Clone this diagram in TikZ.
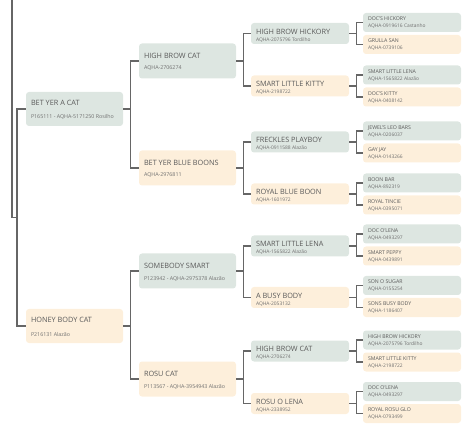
\documentclass[tikz,border=0pt]{standalone}
\usepackage{fontspec}
\setmainfont{Open Sans}
\definecolor{gbox}{HTML}{DDE6E1}
\definecolor{pbox}{HTML}{FDEFDB}
\definecolor{txt}{HTML}{5A5A5A}
\definecolor{subtxt}{HTML}{707070}
\definecolor{wire}{HTML}{666666}
\tikzset{
  hbx/.style={draw=none, rounded corners=3pt, inner sep=0pt, fill=#1},
  L1/.style={minimum width=97pt, minimum height=34pt},
  L2/.style={minimum width=97pt, minimum height=35pt},
  L3/.style={minimum width=98pt, minimum height=21pt},
  L4/.style={minimum width=98pt, minimum height=19pt},
  nm1/.style={anchor=base west, inner sep=0pt, text=txt, yshift=3.4pt, font=\fontsize{7.3}{8}\selectfont},
  sb1/.style={anchor=base west, inner sep=0pt, text=subtxt, yshift=-10pt, font=\fontsize{5.3}{6}\selectfont},
  nm2/.style={anchor=base west, inner sep=0pt, text=txt, yshift=2.4pt, font=\fontsize{7.3}{8}\selectfont},
  sb2/.style={anchor=base west, inner sep=0pt, text=subtxt, yshift=-9pt, font=\fontsize{5.3}{6}\selectfont},
  nm3/.style={anchor=base west, inner sep=0pt, text=txt, yshift=-0.8pt, font=\fontsize{7.3}{8}\selectfont},
  sb3/.style={anchor=base west, inner sep=0pt, text=subtxt, yshift=-7.6pt, font=\fontsize{4.9}{5}\selectfont},
  nm4/.style={anchor=base west, inner sep=0pt, text=txt, yshift=1.8pt, font=\fontsize{5.2}{6}\selectfont},
  sb4/.style={anchor=base west, inner sep=0pt, text=subtxt, yshift=-5.4pt, font=\fontsize{4.9}{5}\selectfont},
  conn/.style={draw=wire, line width=1.3pt},
}
\newcommand\pedi[7]{%
  \node[hbx=#3, L#1] (#2) at (#4,#5) {};
  \node[nm#1] (#2-n) at ([xshift=5pt]#2.west) {#6};
  \node[sb#1] (#2-s) at ([xshift=5pt]#2.west) {#7};
}
\newcommand\linkto[2]{\draw[conn] (#1.east) -- ++(7,0) |- (#2.west);}
\begin{document}
\begin{tikzpicture}[x=1pt,y=-1pt]
\useasboundingbox (0,0) rectangle (468,435);
% level 1
\pedi{1}{A}{gbox}{74.5}{109}{BET YER A CAT}{P165111 - AQHA-5171250 Rosilho}
\pedi{1}{B}{pbox}{74.5}{326}{HONEY BODY CAT}{P216131 Alazão}
% level 2
\pedi{2}{AA}{gbox}{187.5}{61}{HIGH BROW CAT}{AQHA-2706274}
\pedi{2}{AB}{pbox}{187.5}{168}{BET YER BLUE BOONS}{AQHA-2976811}
\pedi{2}{BA}{gbox}{187.5}{271}{SOMEBODY SMART}{P123942 - AQHA-2975378 Alazão}
\pedi{2}{BB}{pbox}{187.5}{379}{ROSU CAT}{P113567 - AQHA-3954943 Alazão}
% level 3
\pedi{3}{AAA}{gbox}{300}{33.5}{HIGH BROW HICKORY}{AQHA-2075796 Tordilho}
\pedi{3}{AAB}{pbox}{300}{86}{SMART LITTLE KITTY}{AQHA-2198722}
\pedi{3}{ABA}{gbox}{300}{142}{FRECKLES PLAYBOY}{AQHA-0911588 Alazão}
\pedi{3}{ABB}{pbox}{300}{194}{ROYAL BLUE BOON}{AQHA-1601972}
\pedi{3}{BAA}{gbox}{300}{246}{SMART LITTLE LENA}{AQHA-1565822 Alazão}
\pedi{3}{BAB}{pbox}{300}{297.5}{A BUSY BODY}{AQHA-2053132}
\pedi{3}{BBA}{gbox}{300}{351}{HIGH BROW CAT}{AQHA-2706274}
\pedi{3}{BBB}{pbox}{300}{403.5}{ROSU O LENA}{AQHA-2338952}
% level 4
\pedi{4}{AAAa}{gbox}{412}{22.5}{DOC'S HICKORY}{AQHA-0919616 Castanho}
\pedi{4}{AAAb}{pbox}{412}{44.5}{GRULLA SAN}{AQHA-0739106}
\pedi{4}{AABa}{gbox}{412}{75}{SMART LITTLE LENA}{AQHA-1565822 Alazão}
\pedi{4}{AABb}{pbox}{412}{97}{DOC'S KITTY}{AQHA-0408142}
\pedi{4}{ABAa}{gbox}{412}{131}{JEWEL'S LEO BARS}{AQHA-0206037}
\pedi{4}{ABAb}{pbox}{412}{153}{GAY JAY}{AQHA-0143266}
\pedi{4}{ABBa}{gbox}{412}{183}{BOON BAR}{AQHA-892319}
\pedi{4}{ABBb}{pbox}{412}{205}{ROYAL TINCIE}{AQHA-0395071}
\pedi{4}{BAAa}{gbox}{412}{234}{DOC O'LENA}{AQHA-0493297}
\pedi{4}{BAAb}{pbox}{412}{256}{SMART PEPPY}{AQHA-0439891}
\pedi{4}{BABa}{gbox}{412}{285.5}{SON O SUGAR}{AQHA-0155254}
\pedi{4}{BABb}{pbox}{412}{307.5}{SONS BUSY BODY}{AQHA-1186407}
\pedi{4}{BBAa}{gbox}{412}{340}{HIGH BROW HICKORY}{AQHA-2075796 Tordilho}
\pedi{4}{BBAb}{pbox}{412}{362}{SMART LITTLE KITTY}{AQHA-2198722}
\pedi{4}{BBBa}{gbox}{412}{391.5}{DOC O'LENA}{AQHA-0493297}
\pedi{4}{BBBb}{pbox}{412}{413.5}{ROYAL ROSU GLO}{AQHA-0793499}
% root connector
\coordinate (root) at (12,0);
\coordinate (rj) at (17,217.5);
\draw[conn] (root) |- (rj);
\draw[conn] (rj) |- (A.west);
\draw[conn] (rj) |- (B.west);
% connectors
\linkto{A}{AA}\linkto{A}{AB}
\linkto{B}{BA}\linkto{B}{BB}
\linkto{AA}{AAA}\linkto{AA}{AAB}
\linkto{AB}{ABA}\linkto{AB}{ABB}
\linkto{BA}{BAA}\linkto{BA}{BAB}
\linkto{BB}{BBA}\linkto{BB}{BBB}
\linkto{AAA}{AAAa}\linkto{AAA}{AAAb}
\linkto{AAB}{AABa}\linkto{AAB}{AABb}
\linkto{ABA}{ABAa}\linkto{ABA}{ABAb}
\linkto{ABB}{ABBa}\linkto{ABB}{ABBb}
\linkto{BAA}{BAAa}\linkto{BAA}{BAAb}
\linkto{BAB}{BABa}\linkto{BAB}{BABb}
\linkto{BBA}{BBAa}\linkto{BBA}{BBAb}
\linkto{BBB}{BBBa}\linkto{BBB}{BBBb}
\end{tikzpicture}
\end{document}
